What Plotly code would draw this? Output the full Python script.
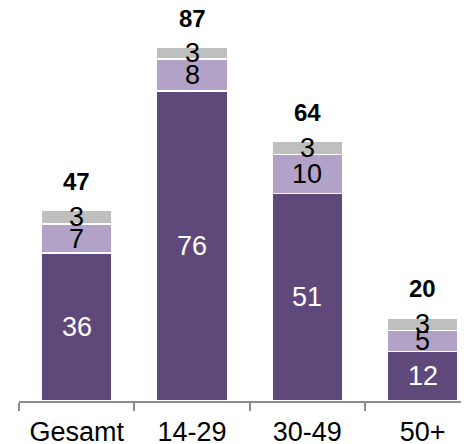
import plotly.graph_objects as go

categories = ["Gesamt", "14-29", "30-49", "50+"]
dark_vals = [36.4, 76.3, 51.1, 12.2]
light_vals = [7.2, 7.9, 9.6, 5.2]
gray_vals = [3.4, 2.9, 3.3, 3.1]
dark_labels = ["36", "76", "51", "12"]
light_labels = ["7", "8", "10", "5"]
gray_labels = ["3", "3", "3", "3"]
total_labels = ["47", "87", "64", "20"]

c_dark = "#5F497A"
c_light = "#B3A2C7"
c_gray = "#BFBFBF"
font_family = "Liberation Sans, Arial, sans-serif"

fig = go.Figure()
for vals, col in [(dark_vals, c_dark), (light_vals, c_light), (gray_vals, c_gray)]:
    fig.add_trace(go.Bar(
        x=categories, y=vals, marker=dict(color=col, line=dict(color="white", width=1.5)),
        width=0.616, hoverinfo="skip", showlegend=False,
    ))

annotations = []
for i, cat in enumerate(categories):
    d = dark_vals[i]
    l = light_vals[i]
    g = gray_vals[i]
    annotations.append(dict(x=cat, y=d / 2, text=dark_labels[i], showarrow=False,
                            font=dict(color="white", size=27, family=font_family)))
    annotations.append(dict(x=cat, y=d + l / 2, text=light_labels[i], showarrow=False,
                            font=dict(color="black", size=27, family=font_family)))
    annotations.append(dict(x=cat, y=d + l + g / 2, text=gray_labels[i], showarrow=False,
                            font=dict(color="black", size=27, family=font_family)))
    annotations.append(dict(x=cat, y=d + l + g, text="<b>" + total_labels[i] + "</b>",
                            showarrow=False, yanchor="middle", yshift=29,
                            font=dict(color="black", size=24, family=font_family)))

fig.update_layout(
    barmode="stack",
    width=469, height=444,
    margin=dict(l=11, r=0, t=0, b=51),
    paper_bgcolor="white", plot_bgcolor="white",
    annotations=annotations,
    font=dict(family=font_family, color="black"),
    xaxis=dict(
        type="category", range=[-0.5, 3.471],
        showline=True, linecolor="#8C8C8C", linewidth=2,
        ticks="outside", tickson="boundaries", ticklen=8, tickcolor="#8C8C8C", tickwidth=2,
        ticklabelstandoff=6,
        tickfont=dict(size=27, color="black", family=font_family),
        showgrid=False, zeroline=False,
    ),
    yaxis=dict(range=[0, 96.8], visible=False, showgrid=False, zeroline=False),
)

fig.write_html("out.html")
